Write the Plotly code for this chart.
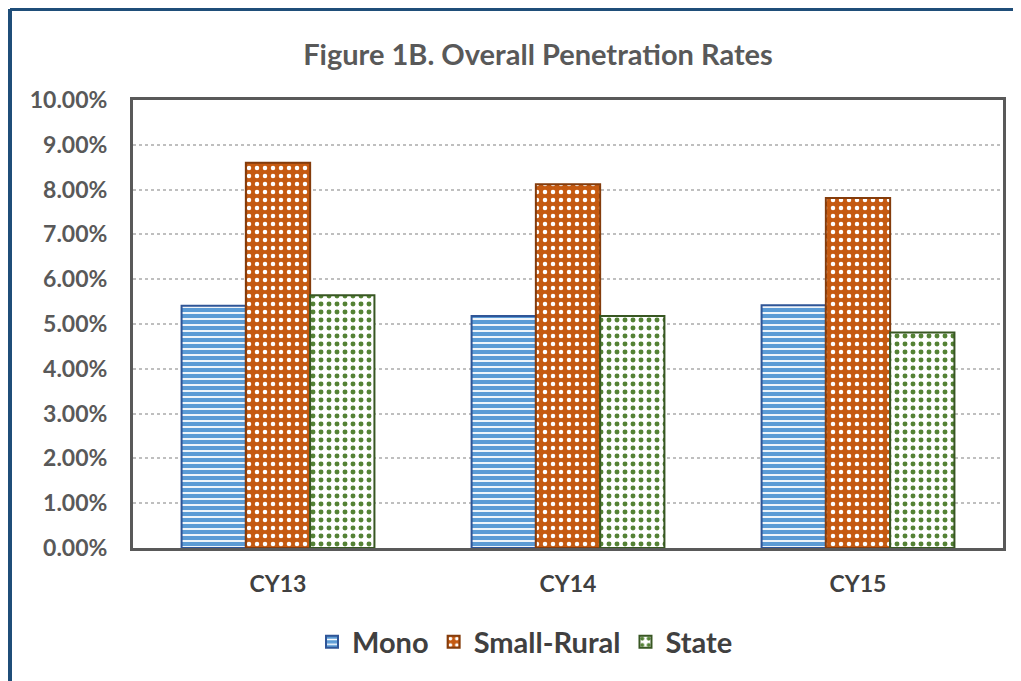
import plotly.graph_objects as go

years = ["CY13", "CY14", "CY15"]
mono = [0.0541, 0.0518, 0.0542]
small_rural = [0.0860, 0.0812, 0.0781]
state = [0.0564, 0.0518, 0.0481]
y_ticks = [0.0, 0.01, 0.02, 0.03, 0.04, 0.05, 0.06, 0.07, 0.08, 0.09, 0.10]

FONT = "Lato"
GREY = "#595959"

fig = go.Figure()
fig.add_bar(
    x=years, y=mono, name="Mono",
    marker=dict(color="#5B9BD5", line=dict(color="#2F5597", width=2),
                pattern=dict(shape="-", fgcolor="white", bgcolor="#5B9BD5",
                             size=6, solidity=0.3, fillmode="replace")),
)
fig.add_bar(
    x=years, y=small_rural, name="Small-Rural",
    marker=dict(color="#C55A11", line=dict(color="#843C0C", width=2),
                pattern=dict(shape=".", fgcolor="white", bgcolor="#C55A11",
                             size=8, solidity=0.25, fillmode="replace")),
)
fig.add_bar(
    x=years, y=state, name="State",
    marker=dict(color="white", line=dict(color="#385723", width=2),
                pattern=dict(shape=".", fgcolor="#548235", bgcolor="white",
                             size=8, solidity=0.3, fillmode="replace")),
)

# the page has an 8px body margin, so the figure is shrunk to fit the window;
# reference plot area is 133..1003 x 100..548 (window pixels)
OFF = 8
FW, FH = 1021 - OFF, 681 - OFF
L, T, W, H = 133 - OFF, 100 - OFF, 870, 448
def px_x(x):
    return (x - OFF - L) / W
def px_y(y):
    return (T + H - (y - OFF)) / H

fig.update_layout(
    width=FW, height=FH,
    margin=dict(l=L, r=FW - L - W, t=T, b=FH - T - H),
    paper_bgcolor="white", plot_bgcolor="white",
    barmode="group", bargap=0.335, bargroupgap=0,
    title=dict(text="<b>Figure 1B. Overall Penetration Rates</b>",
               xref="paper", x=px_x(538), xanchor="center",
               yref="container", y=1 - (55 - OFF) / FH, yanchor="middle",
               font=dict(family=FONT, size=29, color=GREY)),
    font=dict(family=FONT, color=GREY),
    legend=dict(orientation="h", x=px_x(525), xanchor="center",
                y=px_y(642), yanchor="middle",
                font=dict(family=FONT, size=29, color="#404040", weight="bold"),
                itemwidth=30, traceorder="normal"),
    showlegend=True,
    shapes=[
        dict(type="line", xref="paper", yref="paper", x0=px_x(10), x1=px_x(1021),
             y0=px_y(9), y1=px_y(9), line=dict(color="#1F4E79", width=4)),
        dict(type="line", xref="paper", yref="paper", x0=px_x(10), x1=px_x(10),
             y0=px_y(9), y1=px_y(681), line=dict(color="#1F4E79", width=4)),
    ],
)
fig.update_yaxes(
    range=[0, 0.10], tickvals=y_ticks, tickformat=".2%",
    showgrid=True, gridcolor="#BFBFBF", griddash="dot", gridwidth=2,
    showline=True, linecolor=GREY, linewidth=3, mirror=True,
    zeroline=False, ticks="", ticklabelstandoff=18,
    tickfont=dict(family=FONT, size=23, color=GREY, weight="bold"),
)
fig.update_xaxes(
    showline=True, linecolor=GREY, linewidth=3, mirror=True,
    ticks="", ticklabelstandoff=13,
    tickfont=dict(family=FONT, size=23, color="#404040", weight="bold"),
)

fig.write_html("out.html")
